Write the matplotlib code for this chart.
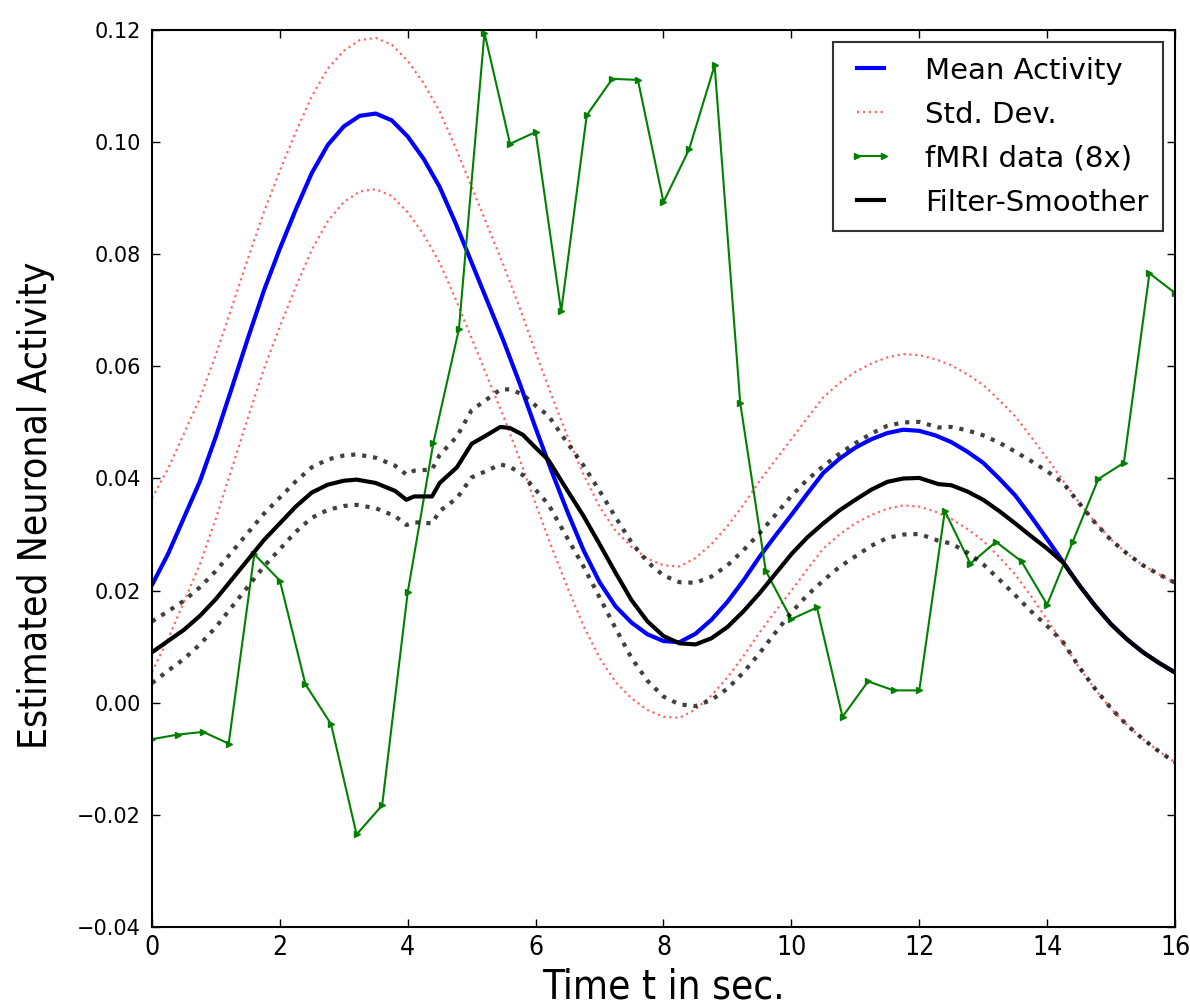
#!/usr/bin/env python3
"""
Estimated neuronal activity: mean +- std, fMRI data and filter-smoother.
Saves out.png
"""

import numpy as np
import matplotlib
matplotlib.use('Agg')
import matplotlib.pyplot as plt
from matplotlib import font_manager


# mean activity (blue) and its std dev (red dotted band), every 0.25 s
t_mean = np.linspace(0, 16, 65)
mean_act = [0.021, 0.0265, 0.033, 0.0395, 0.0475, 0.0562, 0.065, 0.0735, 0.081,
            0.088, 0.0945, 0.0995, 0.1028, 0.1047, 0.1051, 0.1039, 0.101, 0.097,
            0.092, 0.0855, 0.0785, 0.0715, 0.0645, 0.057, 0.049, 0.0413, 0.034,
            0.0272, 0.0215, 0.0172, 0.0143, 0.0122, 0.011, 0.0108, 0.0123, 0.0148,
            0.018, 0.0218, 0.026, 0.0298, 0.0335, 0.0373, 0.041, 0.0435, 0.0455,
            0.047, 0.0481, 0.0487, 0.0485, 0.0477, 0.0465, 0.0448, 0.0428, 0.040,
            0.037, 0.0332, 0.0292, 0.0251, 0.021, 0.0173, 0.014, 0.0113, 0.009,
            0.0071, 0.0054]
mean_sd = ([0.0155, 0.0152, 0.015, 0.0148, 0.0146, 0.0144, 0.0142, 0.014, 0.0139,
            0.0138, 0.0137, 0.0136]
           + [0.0135] * 37
           + [0.0136, 0.0137, 0.0138, 0.0139, 0.014, 0.0141, 0.0142, 0.0144,
              0.0145, 0.0147, 0.0149, 0.0151, 0.0153, 0.0155, 0.0158, 0.016])

# fMRI samples (green), every 0.4 s
t_fmri = np.linspace(0, 16, 41)
fmri = [-0.0065, -0.0057, -0.0052, -0.0073, 0.0265, 0.0218, 0.0033, -0.0038,
        -0.0235, -0.0183, 0.0197, 0.0463, 0.0666, 0.1195, 0.0997, 0.1018,
        0.0698, 0.1048, 0.1113, 0.1111, 0.0893, 0.0987, 0.1137, 0.0535,
        0.0235, 0.0149, 0.0170, -0.0025, 0.0038, 0.0022, 0.0022, 0.0342,
        0.0248, 0.0287, 0.0252, 0.0175, 0.0287, 0.0399, 0.0428, 0.0766, 0.0731]

# filter-smoother estimate (black) and its std dev (black dotted band)
t_fs = [0.0, 0.25, 0.5, 0.75, 1.0, 1.25, 1.5, 1.75, 2.0, 2.25, 2.5, 2.75, 3.0,
        3.2, 3.5, 3.8, 3.98, 4.1, 4.38, 4.5, 4.77, 5.0, 5.2, 5.45, 5.6, 5.8,
        6.0, 6.2, 6.5, 6.75, 7.0, 7.25, 7.5, 7.75, 8.0, 8.25, 8.5, 8.75, 9.0,
        9.25, 9.5, 9.75, 10.0, 10.25, 10.5, 10.75, 11.0, 11.25, 11.5, 11.75,
        12.0, 12.3, 12.5, 12.75, 13.0, 13.25, 13.5, 13.75, 14.0, 14.25, 14.5,
        14.75, 15.0, 15.25, 15.5, 15.75, 16.0]
fs_act = [0.009, 0.011, 0.013, 0.0155, 0.0185, 0.022, 0.0255, 0.029, 0.032,
          0.035, 0.0375, 0.0389, 0.0396, 0.0398, 0.0392, 0.0378, 0.0362, 0.0368,
          0.0368, 0.0392, 0.042, 0.0462, 0.0475, 0.0492, 0.049, 0.0478, 0.0455,
          0.0433, 0.0378, 0.0333, 0.0283, 0.0232, 0.0183, 0.0145, 0.0119, 0.0106,
          0.0104, 0.0115, 0.0135, 0.0163, 0.0195, 0.023, 0.0265, 0.0295, 0.032,
          0.0343, 0.0362, 0.038, 0.0394, 0.040, 0.0401, 0.039, 0.0388, 0.0377,
          0.0362, 0.0342, 0.032, 0.0297, 0.0275, 0.025, 0.021, 0.0173, 0.014,
          0.0113, 0.009, 0.0071, 0.0054]
fs_sd = [0.0055, 0.0053, 0.0052, 0.0051, 0.005, 0.0049, 0.0048, 0.0047, 0.0046,
         0.0045, 0.0045, 0.0045, 0.0045, 0.0045, 0.0045, 0.0045, 0.0045, 0.0046,
         0.0048, 0.005, 0.0055, 0.006, 0.0063, 0.0067, 0.0069, 0.0072, 0.0075,
         0.0079, 0.0085, 0.009, 0.0095, 0.0099, 0.0103, 0.0106, 0.0108, 0.0109,
         0.011, 0.011, 0.011, 0.0109, 0.0107, 0.0105, 0.0104, 0.0103, 0.0102,
         0.0101, 0.0101, 0.010, 0.010, 0.010, 0.010, 0.0101, 0.0104, 0.0109,
         0.0115, 0.0122, 0.0128, 0.0134, 0.0138, 0.0142, 0.0146, 0.0148, 0.015,
         0.0153, 0.0155, 0.0158, 0.016]


def narrow_font():
    names = {f.name for f in font_manager.fontManager.ttflist}
    if 'Liberation Sans Narrow' in names:
        return dict(family='Liberation Sans Narrow')
    return dict(family='DejaVu Sans', stretch='condensed')


def main():
    fig, ax = plt.subplots(figsize=(11.9, 10.08), dpi=100)
    fig.subplots_adjust(left=0.1277, right=0.9874, top=0.9702, bottom=0.0804)

    m = np.array(mean_act)
    s = np.array(mean_sd)
    f = np.array(fs_act)
    fsd = np.array(fs_sd)

    ax.plot(t_mean, m, color='blue', lw=3, label='Mean Activity')
    ax.plot(t_mean, m + s, color='red', ls=':', lw=1.6, alpha=0.6, label='Std. Dev.')
    ax.plot(t_mean, m - s, color='red', ls=':', lw=1.6, alpha=0.6)
    ax.plot(t_fmri, fmri, color='green', lw=1.5, marker='>', markersize=5,
            label='fMRI data (8x)')
    ax.plot(t_fs, f, color='black', lw=3, label='Filter-Smoother')
    ax.plot(t_fs, f + fsd, color='black', ls=':', lw=3, alpha=0.75)
    ax.plot(t_fs, f - fsd, color='black', ls=':', lw=3, alpha=0.75)

    ax.set_xlim(0, 16)
    ax.set_ylim(-0.04, 0.12)
    ax.set_xticks(np.arange(0, 17, 2))
    ax.set_yticks(np.linspace(-0.04, 0.12, 9))
    ax.tick_params(direction='in', top=True, right=True, length=6, width=1)
    ax.tick_params(axis='y', labelsize=15, pad=8)
    ax.tick_params(axis='x', labelsize=19, pad=6)
    nf = narrow_font()
    for lab in ax.get_xticklabels():
        lab.set_fontproperties(font_manager.FontProperties(size=19, **nf))
    for sp in ax.spines.values():
        sp.set_linewidth(1.5)

    ax.set_xlabel("Time t in sec.", fontsize=29, **nf)
    ax.set_ylabel("Estimated Neuronal Activity", fontsize=28, **nf)
    ax.xaxis.set_label_coords(0.5, -0.045)
    ax.yaxis.set_label_coords(-0.095, 0.47)

    leg = ax.legend(loc='upper right', fontsize=21, numpoints=2, fancybox=False,
                    handlelength=1.55, handletextpad=1.1, labelspacing=0.55,
                    borderpad=0.5, borderaxespad=0.41)
    leg.get_frame().set_edgecolor('black')
    leg.get_frame().set_linewidth(1.5)

    plt.savefig("out.png", dpi=100)
    plt.close()


if __name__ == "__main__":
    main()
